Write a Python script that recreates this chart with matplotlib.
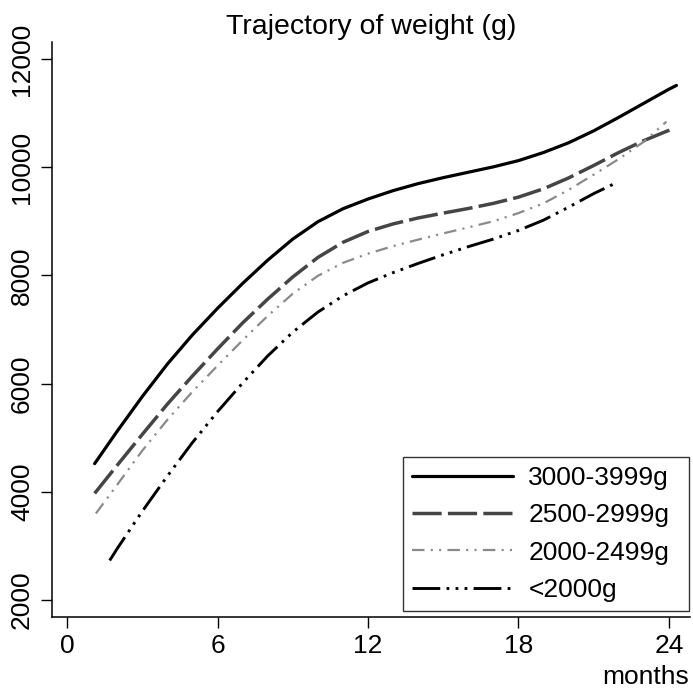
import matplotlib
matplotlib.use("Agg")
import matplotlib.pyplot as plt

plt.rcParams['font.family'] = ['Liberation Sans', 'DejaVu Sans']
plt.rcParams['lines.scale_dashes'] = False

# ---- data ----
months_a = [1.1, 2, 3, 4, 5, 6, 7, 8, 9, 10, 11, 12, 13, 14, 15, 16, 17, 18, 19, 20, 21, 22, 23, 24, 24.3]
weight_a = [4520, 5120, 5760, 6360, 6900, 7390, 7850, 8280, 8670, 8990, 9230, 9410, 9565, 9695, 9805,
            9905, 10005, 10120, 10270, 10450, 10670, 10920, 11180, 11440, 11510]

months_b = [1.1, 2, 3, 4, 5, 6, 7, 8, 9, 10, 11, 12, 13, 14, 15, 16, 17, 18, 19, 20, 21, 22, 23, 24, 24.2]
weight_b = [3970, 4490, 5060, 5620, 6140, 6640, 7120, 7560, 7970, 8330, 8610, 8810, 8950, 9060, 9150,
            9235, 9330, 9445, 9600, 9800, 10030, 10270, 10490, 10680, 10720]

months_c = [1.15, 2, 3, 4, 5, 6, 7, 8, 9, 10, 11, 12, 13, 14, 15, 16, 17, 18, 19, 20, 21, 22, 23, 23.9]
weight_c = [3600, 4130, 4760, 5330, 5850, 6330, 6800, 7250, 7660, 7990, 8230, 8400, 8540, 8660, 8775,
            8885, 9000, 9150, 9330, 9580, 9860, 10150, 10470, 10840]

months_d = [1.7, 2, 3, 4, 5, 6, 7, 8, 9, 10, 11, 12, 13, 14, 15, 16, 17, 18, 19, 20, 21, 21.85]
weight_d = [2730, 2950, 3640, 4290, 4910, 5480, 6010, 6510, 6950, 7320, 7620, 7860, 8050, 8220, 8380,
            8530, 8670, 8830, 9020, 9260, 9510, 9700]

labels = ['3000-3999g', '2500-2999g', '2000-2499g', '<2000g']
x_ticks = [0, 6, 12, 18, 24]
y_ticks = [2000, 4000, 6000, 8000, 10000, 12000]

W, H = 693, 690
fig = plt.figure(figsize=(W / 100, H / 100), dpi=100)
ax = fig.add_axes([52 / W, (H - 617) / H, (690 - 52) / W, (617 - 42) / H])

ax.plot(months_a, weight_a, color='black', lw=2.3, label=labels[0], solid_capstyle='round')
ax.plot(months_b, weight_b, color='#454545', lw=2.5, dashes=(21, 4.5), label=labels[1])
ax.plot(months_c, weight_c, color='#8a8a8a', lw=1.6, dashes=(9, 4.5, 1.5, 4.5, 1.5, 4.5), label=labels[2])
ax.plot(months_d, weight_d, color='black', lw=2.1, dashes=(20, 4.5, 2, 4.5, 2, 4.5, 2, 4.5), label=labels[3])

ax.set_xlim(-0.6, 24.84)
ax.set_ylim(1686, 12312)
ax.set_xticks(x_ticks)
ax.set_yticks(y_ticks)
ax.set_xticklabels([str(v) for v in x_ticks])
ax.set_yticklabels([str(v) for v in y_ticks], rotation=90, va='center', ha='right')

for s in ['top', 'right']:
    ax.spines[s].set_visible(False)
for s in ['left', 'bottom']:
    ax.spines[s].set_linewidth(1.1)

ax.tick_params(axis='both', direction='out', length=8, width=1, labelsize=19, pad=4, colors='black')
ax.tick_params(axis='y', pad=5)

leg = ax.legend(loc='lower left', bbox_to_anchor=((403 - 52) / 638, (617 - 611) / 575, (689 - 403) / 638, 0.0),
                mode='expand', borderaxespad=0,
                fontsize=19, handlelength=3.8, handletextpad=0.6, labelspacing=0.5,
                borderpad=0.35, fancybox=False, frameon=True, edgecolor='black')
leg.get_frame().set_linewidth(1.0)

fig.text(371 / W, (H - 34.5) / H, 'Trajectory of weight (g)', ha='center', va='baseline', fontsize=20.5)
fig.text(689 / W, (H - 684) / H, 'months', ha='right', va='baseline', fontsize=19)

fig.savefig('out.png', dpi=100)
